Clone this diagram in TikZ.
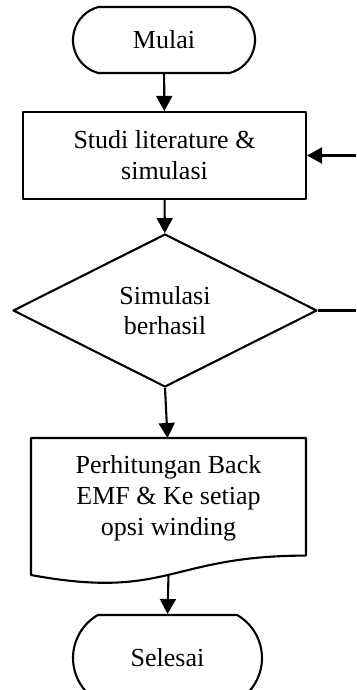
\documentclass[tikz,border=0pt]{standalone}
\usepackage{fontspec}
\setmainfont{Liberation Serif}
\usetikzlibrary{arrows.meta,shapes.geometric,shapes.misc}
\begin{document}
\begin{tikzpicture}[x=1pt,y=-1pt,line join=round,line width=2.1pt,>={Triangle[length=15pt,width=16pt]},font=\fontsize{26}{31}\selectfont]
	\tikzset{term style/.style={draw,rounded rectangle,inner sep=0pt,align=center},
		box style/.style={draw,rectangle,inner sep=0pt,align=center,minimum width=283pt,minimum height=87pt},
		decide style/.style={draw,diamond,inner sep=0pt,align=center,minimum width=304pt,minimum height=153pt,font=\fontsize{26}{29.5}\selectfont}}
	\useasboundingbox (0,0) rectangle (356,690);
	\node[term style,minimum width=182pt,minimum height=66pt,rounded rectangle arc length=150] (mulai) at (164,40) {Mulai};
	\node[box style] (studi) at (164.5,155.5) {Studi literature \&\\simulasi};
	\node[decide style] (cek) at (165,310.5) {Simulasi\\berhasil};
	% dokumen
	\draw (31,438) -- (306,438) -- (306,555.6) .. controls (168.5,555.6) and (168.5,600.4) .. (31,575) -- cycle;
	\node[align=center] (hitung) at (168.5,498) {Perhitungan Back\\EMF \& Ke setiap\\opsi winding};
	\node[term style,minimum width=189pt,minimum height=86pt,rounded rectangle arc length=120] (selesai) at (167.5,658) {Selesai};
	\coordinate (balik) at (356,155.5);
	\coordinate (ujung) at (356,310.5);
	\coordinate (dokatas) at (167.5,438);
	\coordinate (dokbawah) at (168.5,574.8);
	\draw[->] (mulai) -- (studi);
	\draw[->] (studi) -- (cek);
	\draw[->] (balik) -- (studi.east);
	\draw (cek.east) -- (ujung);
	\draw[->] (cek.south) -- (dokatas);
	\draw[->] (dokbawah) -- (selesai.north);
\end{tikzpicture}
\end{document}
